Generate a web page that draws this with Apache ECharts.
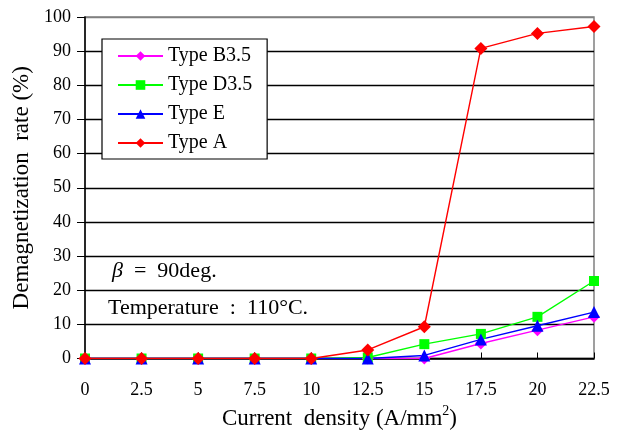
<!DOCTYPE html>
<html>
<head>
<meta charset="utf-8">
<script src="https://cdn.jsdelivr.net/npm/echarts@6/dist/echarts.min.js"></script>
<style>
  html, body { margin: 0; padding: 0; background: #fff; }
  #main { width: 625px; height: 432px; }
</style>
</head>
<body>
<div id="main"></div>
<script>
// current density (A/mm2)
var currentDensity = ['0', '2.5', '5', '7.5', '10', '12.5', '15', '17.5', '20', '22.5'];
// demagnetization rate (%)
var typeB35 = [0, 0, 0, 0, 0, 0, 0, 4.4, 8.3, 12.2];
var typeD35 = [0, 0, 0, 0, 0, 0.3, 4.2, 7.2, 12.2, 22.7];
var typeE = [0, 0, 0, 0, 0, 0, 0.9, 5.6, 9.6, 13.6];
var typeA = [0, 0, 0, 0, 0, 2.5, 9.3, 90.8, 95.2, 97.2];
var yTicks = [0, 10, 20, 30, 40, 50, 60, 70, 80, 90, 100];

var font = '"Liberation Serif", "Times New Roman", serif';
var myChart = echarts.init(document.getElementById('main'));

function line(name, data, color, symbol, size) {
    return {
        name: name,
        type: 'line',
        data: data,
        symbol: symbol,
        symbolSize: size,
        showSymbol: true,
        animation: false,
        itemStyle: { color: color },
        lineStyle: { color: color, width: 1.4 }
    };
}

// grid lines black, top border gray
var splitColors = yTicks.map(function (v) { return v === 100 ? '#808080' : '#000'; });

var option = {
    backgroundColor: '#fff',
    textStyle: { fontFamily: font },
    grid: {
        left: 85,
        right: 31,
        top: 17,
        bottom: 73.5,
        outerBoundsMode: 'none',
        containLabel: false,
        show: true,
        borderColor: '#808080',
        borderWidth: 1.5
    },
    legend: {
        left: 102,
        top: 39,
        orient: 'vertical',
        padding: [7, 15, 6, 15],
        itemGap: 9,
        itemWidth: 45,
        itemHeight: 12,
        backgroundColor: '#fff',
        borderColor: '#000',
        borderWidth: 1.2,
        textStyle: { fontFamily: font, fontSize: 20, color: '#000' },
        data: ['Type B3.5', 'Type D3.5', 'Type E', 'Type A']
    },
    xAxis: {
        type: 'category',
        data: currentDensity,
        boundaryGap: false,
        axisLine: { lineStyle: { color: '#000', width: 1.5 } },
        axisTick: { inside: true, length: 6, lineStyle: { color: '#000' } },
        axisLabel: { fontFamily: font, fontSize: 18, color: '#000', margin: 23 },
        name: '{a|Current  density (A/mm}{s|2}{a|)}',
        nameLocation: 'middle',
        nameGap: 46,
        nameTextStyle: {
            rich: {
                a: { fontFamily: font, fontSize: 23, color: '#000', verticalAlign: 'bottom' },
                s: { fontFamily: font, fontSize: 14, color: '#000', verticalAlign: 'top', padding: [0, 0, 12, 0] }
            }
        }
    },
    yAxis: {
        type: 'value',
        min: 0,
        max: 100,
        interval: 10,
        axisLine: { show: true, lineStyle: { color: '#000', width: 1.5 } },
        axisTick: { show: true, length: 8, lineStyle: { color: '#000' } },
        axisLabel: { fontFamily: font, fontSize: 18, color: '#000', margin: 14 },
        splitLine: { show: true, lineStyle: { color: splitColors, width: 1.3 } },
        name: 'Demagnetization  rate (%)',
        nameLocation: 'middle',
        nameGap: 47,
        nameTextStyle: { fontFamily: font, fontSize: 23, color: '#000' }
    },
    graphic: [
        {
            type: 'text', left: 112, top: 260,
            style: { text: '{i|β}  =  90deg.', rich: { i: { fontFamily: font, fontSize: 22, fontStyle: 'italic' } }, font: '22px ' + font, fill: '#000' }
        },
        {
            type: 'text', left: 108, top: 297,
            style: { text: 'Temperature  :  110°C.', font: '22px ' + font, fill: '#000' }
        }
    ],
    series: [
        line('Type B3.5', typeB35, '#ff00ff', 'diamond', 12),
        line('Type D3.5', typeD35, '#00ff00', 'rect', 10),
        line('Type E', typeE, '#0000ff', 'triangle', 12),
        line('Type A', typeA, '#ff0000', 'diamond', 13)
    ]
};

myChart.setOption(option);
</script>
</body>
</html>
